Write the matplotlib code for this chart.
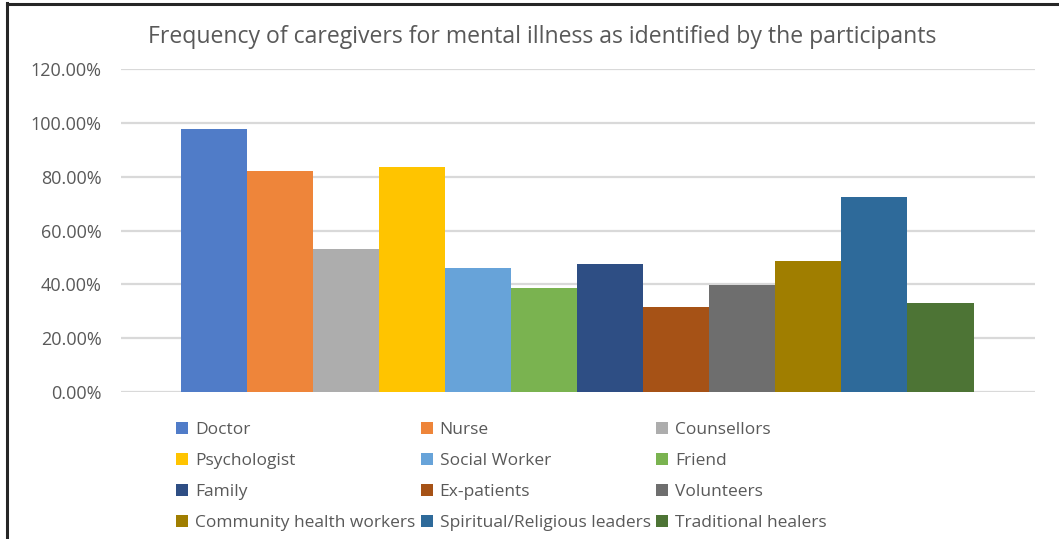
import matplotlib.pyplot as plt
from matplotlib.lines import Line2D
from matplotlib.patches import Patch

plt.rcParams['font.family'] = ['Open Sans', 'DejaVu Sans']

caregivers = ['Doctor', 'Nurse', 'Counsellors', 'Psychologist', 'Social Worker',
              'Friend', 'Family', 'Ex-patients', 'Volunteers',
              'Community health workers', 'Spiritual/Religious leaders',
              'Traditional healers']
percent = [97.8, 82.0, 53.3, 83.6, 46.0, 38.8, 47.6, 31.7, 39.9, 48.6, 72.5, 33.1]
colors = ['#507CC8', '#EE853A', '#ADADAD', '#FFC400', '#67A3D9', '#7AB350',
          '#2E4E84', '#A65216', '#6E6E6E', '#A07E00', '#2E6A9A', '#4D7435']
y_ticks = [0, 20, 40, 60, 80, 100, 120]

text_grey = '#595959'
W, H = 1059, 539

fig = plt.figure(figsize=(W / 100, H / 100), dpi=100)
ax = fig.add_axes([121 / W, (H - 392) / H, (1035 - 121) / W, (392 - 69) / H])

for i, (val, c) in enumerate(zip(percent, colors)):
    ax.bar(i, val, width=1.0, color=c, edgecolor='none', zorder=3)

ax.set_ylim(0, 120)
ax.set_xlim(-1.403, 12.43)
ax.set_yticks(y_ticks)
ax.set_yticklabels([f'{t:.2f}%' for t in y_ticks])
ax.tick_params(axis='y', length=0, pad=14, labelsize=13, labelcolor=text_grey)
ax.set_xticks([])
ax.grid(axis='y', color='#d9d9d9', linewidth=1.6, zorder=0)
for s in ax.spines.values():
    s.set_visible(False)

fig.text(542 / W, 1 - 37 / H, 'Frequency of caregivers for mental illness as identified by the participants',
         ha='center', va='center', fontsize=16.6, color=text_grey)

# legend is laid out row by row, matplotlib fills columns first
order = [0, 3, 6, 9, 1, 4, 7, 10, 2, 5, 8, 11]
handles = [Patch(facecolor=colors[k], edgecolor='none') for k in order]
labels = [caregivers[k] for k in order]
fig.legend(handles, labels, ncol=3, loc='upper left',
           bbox_to_anchor=(176 / W, 1 - 422 / H), frameon=False,
           fontsize=12.5, labelcolor=text_grey, handlelength=0.7, handleheight=0.7,
           handletextpad=0.4, columnspacing=0.3, labelspacing=0.85,
           borderaxespad=0, borderpad=0)

# dark frame on the top and left edges
fig.add_artist(Line2D([7 / W, 7 / W], [0, 1 - 3 / H], color='#262626', linewidth=2.2))
fig.add_artist(Line2D([7 / W, 1], [1 - 4 / H, 1 - 4 / H], color='#262626', linewidth=2.2))

fig.savefig('out.png', dpi=100, facecolor='white')
